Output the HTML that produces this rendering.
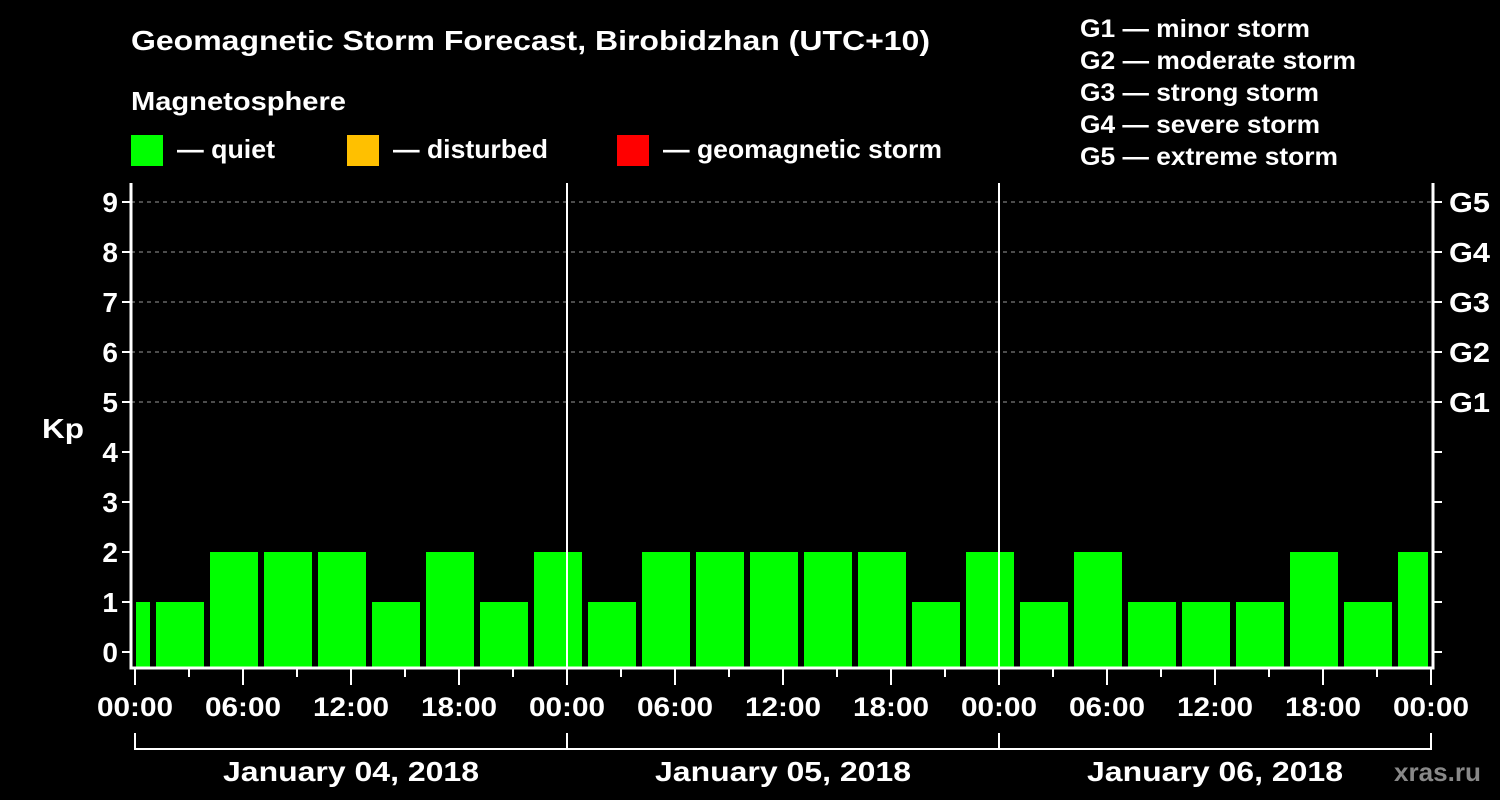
<!DOCTYPE html>
<html><head><meta charset="utf-8"><style>
html,body{margin:0;padding:0;background:#000;}
svg{display:block;font-family:"Liberation Sans",Arial,sans-serif;font-weight:bold;}
</style></head><body>
<svg id="c" width="1500" height="800" viewBox="0 0 1500 800">
<rect width="1500" height="800" fill="#000"/>
<text x="131" y="50" fill="#fff" font-size="28" textLength="799" lengthAdjust="spacingAndGlyphs">Geomagnetic Storm Forecast, Birobidzhan (UTC+10)</text>
<text x="131" y="110" fill="#fff" font-size="26" textLength="215" lengthAdjust="spacingAndGlyphs">Magnetosphere</text>
<g><rect x="131" y="135" width="32" height="31" fill="#00ff00"/><text x="177" y="158" fill="#fff" font-size="26" textLength="98" lengthAdjust="spacingAndGlyphs">— quiet</text></g>
<g><rect x="347" y="135" width="32" height="31" fill="#ffc000"/><text x="393" y="158" fill="#fff" font-size="26" textLength="155" lengthAdjust="spacingAndGlyphs">— disturbed</text></g>
<g><rect x="617" y="135" width="32" height="31" fill="#ff0000"/><text x="663" y="158" fill="#fff" font-size="26" textLength="279" lengthAdjust="spacingAndGlyphs">— geomagnetic storm</text></g>
<g fill="#fff" font-size="25">
<text x="1080" y="37" textLength="230" lengthAdjust="spacingAndGlyphs">G1 — minor storm</text>
<text x="1080" y="69" textLength="276" lengthAdjust="spacingAndGlyphs">G2 — moderate storm</text>
<text x="1080" y="101" textLength="239" lengthAdjust="spacingAndGlyphs">G3 — strong storm</text>
<text x="1080" y="133" textLength="240" lengthAdjust="spacingAndGlyphs">G4 — severe storm</text>
<text x="1080" y="165" textLength="258" lengthAdjust="spacingAndGlyphs">G5 — extreme storm</text>
</g>
<text x="42" y="438" fill="#fff" font-size="28" textLength="42" lengthAdjust="spacingAndGlyphs">Kp</text>
<text x="1394" y="781" fill="#888" font-size="26" textLength="87" lengthAdjust="spacingAndGlyphs">xras.ru</text>
<g id="grid"></g><g id="bars"></g><g id="axes"></g>
</svg>
<script>
const kpValues=[1,1,2,2,2,1,2,1,2,1,2,2,2,2,2,1,2,1,2,1,1,1,2,1,2];
const startHour=-2;
const yTicks=[0,1,2,3,4,5,6,7,8,9];
const gLabels=["G1","G2","G3","G4","G5"];
const timeLabels=["00:00","06:00","12:00","18:00"];
const dayLabels=["January 04, 2018","January 05, 2018","January 06, 2018"];
const NS="http://www.w3.org/2000/svg";
const X0=135,PX_H=18,LEFT=131,RIGHT=1433,TOP=183,BOT=668;
const x=h=>X0+h*PX_H;
const y=v=>652-v*50;
function mk(tag,at,parent,txt){const e=document.createElementNS(NS,tag);for(const k in at)e.setAttribute(k,at[k]);if(txt!=null)e.textContent=txt;document.getElementById(parent).appendChild(e);return e;}
[5,6,7,8,9].forEach(v=>{const e=mk('line',{x1:LEFT,x2:RIGHT,y1:y(v),y2:y(v),stroke:'#999','stroke-dasharray':'4,4','stroke-width':1},'grid');

});
kpValues.forEach((v,i)=>{let h0=startHour+i*3,h1=h0+3;let x0=Math.max(x(h0)+3,x(0)+1),x1=Math.min(x(h1)-3,x(72)-3);
const col=v>=5?'#ff0000':(v>=4?'#ffc000':'#00ff00');
const r=mk('rect',{x:x0,y:y(v),width:x1-x0,height:BOT-y(v),fill:col},'bars');

});
const f=mk('path',{d:`M${LEFT},${TOP} V${BOT} H${RIGHT} V${TOP}`,stroke:'#fff','stroke-width':3,fill:'none'},'axes');


[24,48].forEach(h=>{const l=mk('line',{x1:x(h),x2:x(h),y1:TOP,y2:BOT,stroke:'#fff','stroke-width':2},'axes');

});
yTicks.forEach(v=>{mk('line',{x1:LEFT-9,x2:LEFT,y1:y(v),y2:y(v),stroke:'#fff','stroke-width':2},'axes');
mk('line',{x1:RIGHT,x2:RIGHT+9,y1:y(v),y2:y(v),stroke:'#fff','stroke-width':2},'axes');
const t=mk('text',{x:LEFT-13,y:y(v)+10,fill:'#fff','font-size':28,'text-anchor':'end'},'axes',String(v));

});
gLabels.forEach((g,i)=>{const t=mk('text',{x:1449,y:y(5+i)+10,fill:'#fff','font-size':28,textLength:41,lengthAdjust:'spacingAndGlyphs'},'axes',g);

});
for(let h=0;h<=72;h+=3){const major=h%6===0;mk('line',{x1:x(h),x2:x(h),y1:BOT,y2:major?685:677,stroke:'#fff','stroke-width':2},'axes');
if(major){const t=mk('text',{x:x(h)-38,y:716,fill:'#fff','font-size':27,textLength:76,lengthAdjust:'spacingAndGlyphs'},'axes',timeLabels[(h/6)%4]);

}}
const b=mk('path',{d:`M${x(0)},733 V749 H${x(72)} V733 M${x(24)},733 V749 M${x(48)},733 V749`,stroke:'#fff','stroke-width':2,fill:'none'},'axes');


dayLabels.forEach((d,i)=>{const t=mk('text',{x:x(12+24*i)-128,y:781,fill:'#fff','font-size':28,textLength:256,lengthAdjust:'spacingAndGlyphs'},'axes',d);

});
</script>
</body></html>
